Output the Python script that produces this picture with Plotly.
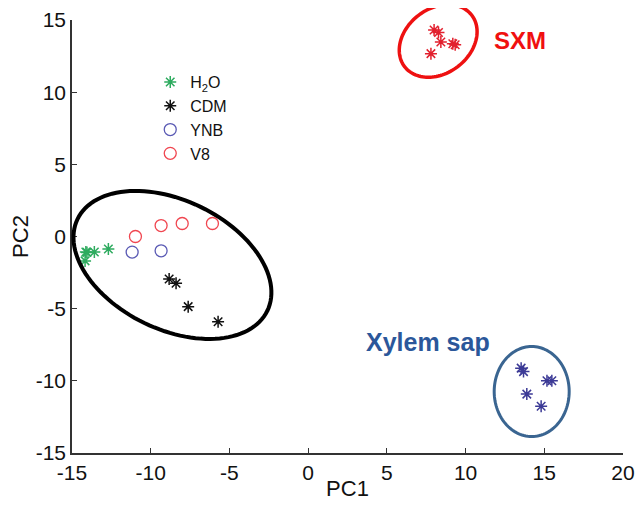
import numpy as np
import plotly.graph_objects as go

# ---- data ----
h2o_x = [-14.12, -13.58, -12.69, -14.17, -14.05]
h2o_y = [-1.08, -1.08, -0.87, -1.69, -1.10]
cdm_x = [-8.83, -8.39, -7.62, -5.72]
cdm_y = [-2.94, -3.24, -4.86, -5.90]
ynb_x = [-11.18, -9.34]
ynb_y = [-1.08, -0.99]
v8_x = [-10.97, -9.34, -8.00, -6.08]
v8_y = [0.00, 0.76, 0.90, 0.90]
sxm_x = [8.00, 8.28, 8.43, 9.19, 9.34, 7.80]
sxm_y = [14.31, 14.13, 13.47, 13.36, 13.28, 12.67]
xyl_x = [13.53, 13.68, 15.17, 15.48, 13.89, 14.80]
xyl_y = [-9.12, -9.36, -10.00, -10.00, -10.92, -11.76]

x_ticks = [-15, -10, -5, 0, 5, 10, 15, 20]
y_ticks = [-15, -10, -5, 0, 5, 10, 15]

# ---- layout geometry (page body has an 8px margin) ----
W, H = 628, 493
ML, MR, MT, MB = 64, 13, 12, 48
PW, PH = W - ML - MR, H - MT - MB
XR = [-15, 20]
YR = [-15, 15]

FONT = "Arial, Liberation Sans, sans-serif"

fig = go.Figure()

def star(x, y, name, color, show=True, size=10):
    fig.add_trace(go.Scatter(
        x=x, y=y, mode="markers", name=name, showlegend=show,
        marker=dict(symbol="asterisk-open", size=size, color=color,
                    line=dict(color=color, width=1.5))))

def ring(x, y, name, color):
    fig.add_trace(go.Scatter(
        x=x, y=y, mode="markers", name=name,
        marker=dict(symbol="circle-open", size=12, color=color,
                    line=dict(color=color, width=1.3))))

star(h2o_x, h2o_y, "H<sub>2</sub>O", "#2eab5f")
star(cdm_x, cdm_y, "CDM", "#111111")
ring(ynb_x, ynb_y, "YNB", "#5a5ab4")
ring(v8_x, v8_y, "V8", "#f04650")
star(sxm_x, sxm_y, "SXM", "#e2202e", show=False)
star(xyl_x, xyl_y, "Xylem sap", "#3c3a96", show=False)


def to_paper(x, y):
    return (x - XR[0]) / (XR[1] - XR[0]), (y - YR[0]) / (YR[1] - YR[0])


def ellipse_path(cx, cy, a_px, b_px, theta_deg):
    """Ellipse centred at data (cx, cy); semi-axes in screen pixels,
    rotation in screen space (clockwise positive)."""
    px0, py0 = to_paper(cx, cy)
    t = np.linspace(0, 2 * np.pi, 121)
    th = np.deg2rad(theta_deg)
    dx = a_px * np.cos(t) * np.cos(th) - b_px * np.sin(t) * np.sin(th)
    dy = a_px * np.cos(t) * np.sin(th) + b_px * np.sin(t) * np.cos(th)
    xs = px0 + dx / PW
    ys = py0 - dy / PH
    pts = [f"{xx:.5f},{yy:.5f}" for xx, yy in zip(xs, ys)]
    return "M " + " L ".join(pts) + " Z"

ellipses = [
    (-8.62, -1.97, 105.4, 64.5, 25.8, "#000000", 4),
    (8.26, 13.55, 42.3, 32.3, -37.4, "#ee1111", 3.5),
    (14.20, -10.74, 37.5, 45.0, 0.0, "#3a6591", 3),
]
for cx, cy, a, b, th, col, lw in ellipses:
    fig.add_shape(type="path", xref="paper", yref="paper",
                  path=ellipse_path(cx, cy, a, b, th),
                  line=dict(color=col, width=lw), layer="above")

fig.add_annotation(x=13.46, y=13.61, xref="x", yref="y", text="<b>SXM</b>",
                   showarrow=False, font=dict(family=FONT, size=24, color="#f01010"))
fig.add_annotation(x=7.6, y=-7.31, xref="x", yref="y", text="<b>Xylem sap</b>",
                   showarrow=False, font=dict(family=FONT, size=25, color="#2b579a"))

axis_common = dict(showline=True, linecolor="#333333", linewidth=1.5,
                   ticks="inside", ticklen=5, tickcolor="#333333", tickwidth=1,
                   showgrid=False, zeroline=False, automargin=False,
                   tickfont=dict(family=FONT, size=21, color="#111111"))

fig.update_layout(
    width=W, height=H,
    margin=dict(l=ML, r=MR, t=MT, b=MB, autoexpand=False),
    paper_bgcolor="white", plot_bgcolor="white",
    font=dict(family=FONT, color="#111111"),
    xaxis=dict(range=XR, tickvals=x_ticks, ticktext=[str(v) for v in x_ticks],
               title=dict(text="PC1", font=dict(family=FONT, size=22), standoff=4),
               **axis_common),
    yaxis=dict(range=YR, tickvals=y_ticks, ticktext=[str(v) for v in y_ticks],
               title=dict(text="PC2", font=dict(family=FONT, size=22), standoff=2),
               **axis_common),
    legend=dict(x=0.142, y=0.896, xanchor="left", yanchor="top",
                bgcolor="rgba(0,0,0,0)", font=dict(family=FONT, size=16),
                tracegroupgap=0, itemwidth=30),
    showlegend=True,
)

fig.write_html("out.html")
